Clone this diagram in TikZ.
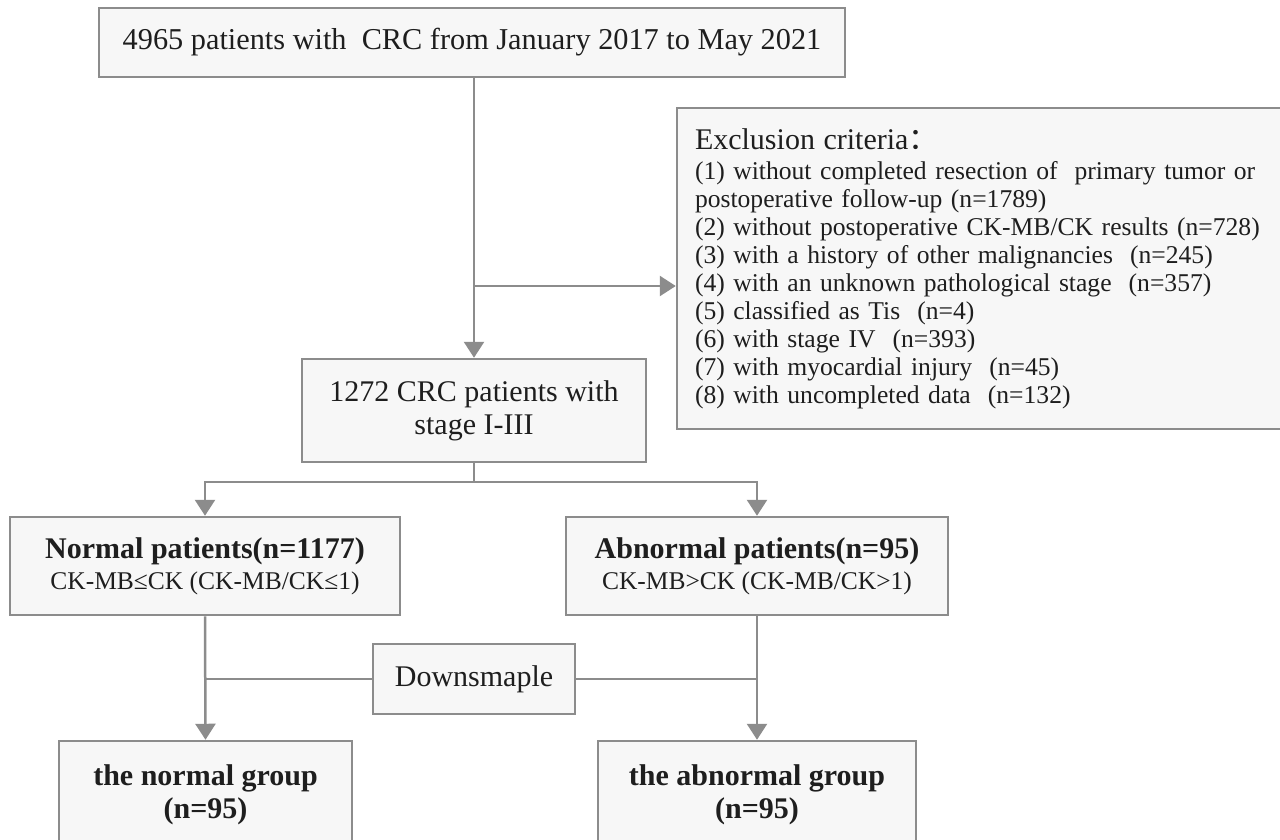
\documentclass[tikz,border=0pt]{standalone}
\usepackage{fontspec}
\setmainfont{Liberation Serif}
\newfontfamily\cjk{Noto Sans CJK SC}
\usetikzlibrary{arrows.meta}
\definecolor{linegray}{HTML}{8C8C8C}
\definecolor{boxfill}{HTML}{F7F7F7}
\definecolor{txt}{HTML}{1E1E1E}
\begin{document}
\begin{tikzpicture}[x=1pt,y=-1pt,
  box/.style={draw=linegray, line width=2.5pt, fill=boxfill, text=txt, inner sep=0pt, align=center},
  conn/.style={draw=linegray, line width=2.5pt},
  arr/.style={conn, -{Triangle[width=20pt,length=16pt]}},
  big/.style={font=\fontsize{30.3}{33}\selectfont},
  small/.style={font=\fontsize{25.6}{28}\selectfont}
]
\path[use as bounding box, fill=white] (0,0) rectangle (1280,839);

\node[box, big, minimum width=746pt, minimum height=69pt] (top) at (472,42.5)
  {4965 patients with\ \ CRC from January 2017 to May 2021};

\node[box, small, minimum width=620pt, minimum height=321pt, text width=584pt,
      inner xsep=18pt, align=left] (excl) at (987,268.5)
  {{\fontsize{30}{30}\selectfont Exclusion criteria{\cjk ：}}\\[2pt]
   (1) without completed resection of\ \ primary tumor or\\
   postoperative follow-up (n=1789)\\
   (2) without postoperative CK-MB/CK results (n=728)\\
   (3) with a history of other malignancies\ \ (n=245)\\
   (4) with an unknown pathological stage\ \ (n=357)\\
   (5) classified as Tis\ \ (n=4)\\
   (6) with stage IV\ \ (n=393)\\
   (7) with myocardial injury\ \ (n=45)\\
   (8) with uncompleted data\ \ (n=132)};

\node[box, font=\fontsize{30}{33}\selectfont, minimum width=344pt, minimum height=103pt] (n1272) at (474,410.5)
  {1272 CRC patients with\\stage I-III};

\node[box, font=\fontsize{30}{31}\selectfont, minimum width=390pt, minimum height=98pt] (normal) at (205,566)
  {{\bfseries Normal patients(n=1177)}\\
   {\fontsize{25.5}{28}\selectfont CK-MB≤CK (CK-MB/CK≤1)}};

\node[box, font=\fontsize{30}{31}\selectfont, minimum width=382pt, minimum height=98pt] (abnormal) at (757,566)
  {{\bfseries Abnormal patients(n=95)}\\
   {\fontsize{25.5}{28}\selectfont CK-MB>CK (CK-MB/CK>1)}};

\node[box, font=\fontsize{30}{33}\selectfont, minimum width=202pt, minimum height=70pt] (down) at (474,679)
  {Downsmaple};

\node[box, font=\fontsize{30}{33}\selectfont\bfseries, minimum width=293pt, minimum height=108pt] (ngroup) at (205.5,795)
  {the normal group\\(n=95)};

\node[box, font=\fontsize{30}{33}\selectfont\bfseries, minimum width=318pt, minimum height=108pt] (agroup) at (757,795)
  {the abnormal group\\(n=95)};

\coordinate (bx) at (474,286);
\coordinate (split) at (474,482);

\draw[arr] (top.south -| n1272.north) -- (n1272.north);
\draw[arr] (bx) -- (bx -| excl.west);
\draw[conn] (n1272.south) -- (split);
\draw[arr] (split) -| (normal.north);
\draw[arr] (split) -| (abnormal.north);
\draw[arr] (normal.south) -- (ngroup.north);
\draw[arr] (abnormal.south) -- (agroup.north);
\draw[conn] (down.west) -- (down.west -| normal.south);
\draw[conn] (down.east) -- (down.east -| abnormal.south);
\end{tikzpicture}
\end{document}
